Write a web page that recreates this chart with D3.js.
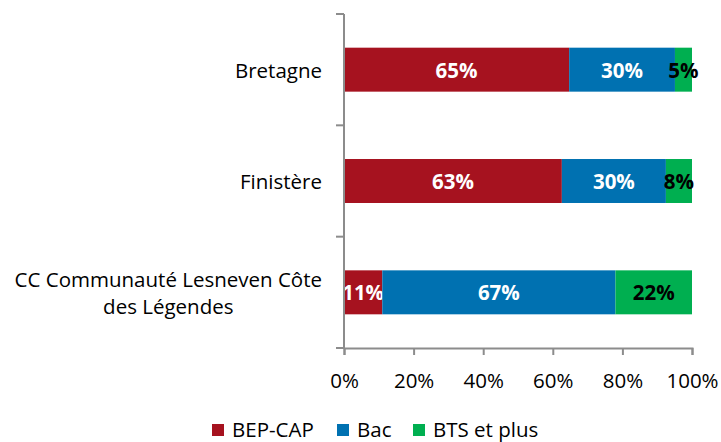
<!DOCTYPE html>
<html>
<head>
<meta charset="utf-8">
<script src="https://cdn.jsdelivr.net/npm/d3@7"></script>
<style>
  body { margin: 0; background: #fff; }
  text { font-family: "Open Sans", sans-serif; }
</style>
</head>
<body>
<script>
// data
const categories = ["Bretagne", "Finistère", "CC Communauté Lesneven Côte des Légendes"];
const categoryLines = [["Bretagne"], ["Finistère"], ["CC Communauté Lesneven Côte", "des Légendes"]];
const seriesNames = ["BEP-CAP", "Bac", "BTS et plus"];
const bepCap = [64.7, 62.6, 11];
const bac = [30.4, 29.9, 67];
const btsPlus = [4.9, 7.5, 22];
const xTicks = [0, 20, 40, 60, 80, 100];

const colors = ["#A6121F", "#0071B1", "#00AF50"];
const labelColors = ["#fff", "#fff", "#000"];
const fontSize = 20.5;

const width = 721, height = 442;
const svg = d3.select("body").append("svg")
    .attr("width", width)
    .attr("height", height);

const x = d3.scaleLinear().domain([0, 100]).range([344, 692]);
const y = d3.scaleBand().domain(categories).range([14, 348])
    .paddingInner(0.605).paddingOuter(0.3025);

const rows = categories.map((c, i) => {
    const vals = [bepCap[i], bac[i], btsPlus[i]];
    let acc = 0;
    return vals.map((v, k) => {
        const seg = { cat: c, k: k, v: v, x0: acc, x1: acc + v };
        acc += v;
        return seg;
    });
});

// bars
const segs = svg.append("g").selectAll("g")
    .data(rows.flat())
    .enter().append("g");
segs.append("rect")
    .attr("x", d => x(d.x0))
    .attr("y", d => y(d.cat))
    .attr("width", d => x(d.x1) - x(d.x0))
    .attr("height", y.bandwidth())
    .attr("fill", d => colors[d.k]);
segs.append("text")
    .attr("x", d => (x(d.x0) + x(d.x1)) / 2)
    .attr("y", d => y(d.cat) + y.bandwidth() / 2)
    .attr("text-anchor", "middle")
    .attr("dominant-baseline", "central")
    .attr("font-weight", "bold")
    .attr("font-size", 20.5)
    .attr("fill", d => labelColors[d.k])
    .text(d => Math.round(d.v) + "%");

// axes
const axisColor = "#8c8c8c";
const axes = svg.append("g").attr("stroke", axisColor).attr("stroke-width", 2);
const step = y.step();
const yTop = y(categories[0]) - step * y.paddingInner() / 2;
axes.append("line")
    .attr("x1", x(0)).attr("x2", x(0))
    .attr("y1", yTop).attr("y2", 348);
axes.selectAll(".ytick")
    .data(categories.map((c, i) => yTop + i * step).concat([348]))
    .enter().append("line")
    .attr("x1", x(0) - 8).attr("x2", x(0))
    .attr("y1", d => d).attr("y2", d => d);

const xAxis = svg.append("g")
    .attr("transform", "translate(0,348)")
    .call(d3.axisBottom(x).tickValues(xTicks).tickSize(7).tickFormat(d => d + "%"));
xAxis.select(".domain").attr("stroke", axisColor).attr("stroke-width", 2);
xAxis.selectAll(".tick line").attr("stroke", axisColor).attr("stroke-width", 2);
xAxis.selectAll(".tick text")
    .attr("font-family", "'Open Sans', sans-serif")
    .attr("font-size", fontSize)
    .attr("fill", "#000")
    .attr("y", 25)
    .attr("dy", "0.71em");

// category labels
const catLabels = svg.append("g").selectAll("text")
    .data(categories)
    .enter().append("text")
    .attr("font-size", fontSize)
    .attr("fill", "#000")
    .attr("text-anchor", "middle")
    .each(function (c, i) {
        const lines = categoryLines[i];
        const t = d3.select(this);
        const cy = y(c) + y.bandwidth() / 2;
        const lh = 27;
        lines.forEach((ln, j) => {
            t.append("tspan")
                .attr("x", 0)
                .attr("y", cy + (j - (lines.length - 1) / 2) * lh)
                .attr("dominant-baseline", "central")
                .text(ln);
        });
    });
// right-align the block, centre the lines within it
catLabels.each(function () {
    const t = d3.select(this);
    const w = this.getBBox().width;
    t.attr("transform", `translate(${322 - w / 2},0)`);
});

// legend
const legend = svg.append("g").attr("transform", "translate(0,428)");
const legendX = [212, 337, 413];
const lg = legend.selectAll("g")
    .data(seriesNames)
    .enter().append("g")
    .attr("transform", (d, i) => `translate(${legendX[i]},0)`);
lg.append("rect")
    .attr("x", 0).attr("y", -4)
    .attr("width", 12).attr("height", 12)
    .attr("fill", (d, i) => colors[i]);
lg.append("text")
    .attr("x", 20)
    .attr("y", 1)
    .attr("dominant-baseline", "central")
    .attr("font-size", fontSize)
    .attr("fill", "#000")
    .text(d => d);
</script>
</body>
</html>
